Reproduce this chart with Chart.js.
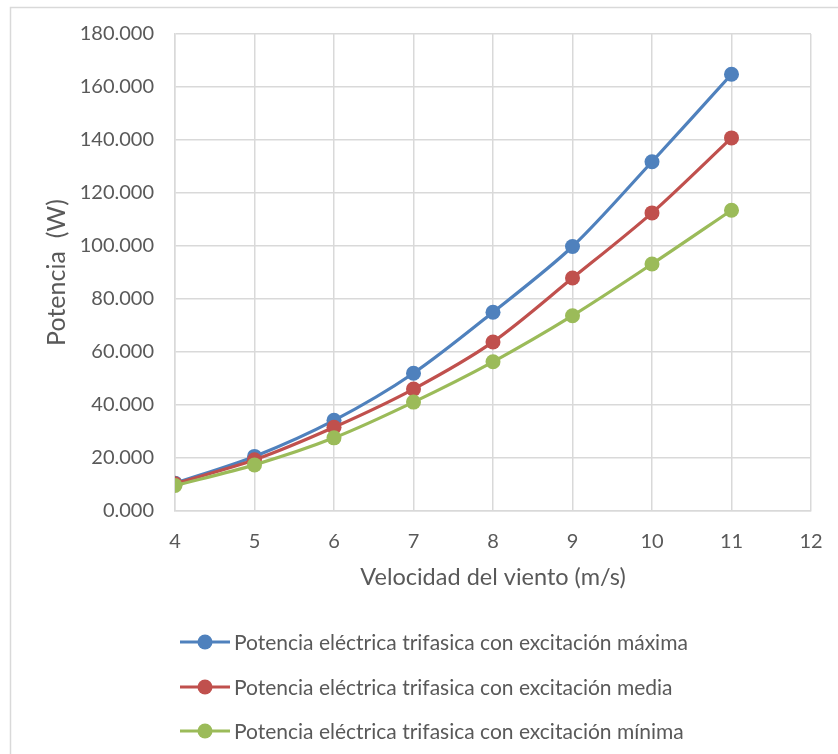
<!DOCTYPE html>
<html>
<head>
<meta charset="utf-8">
<script src="https://cdn.jsdelivr.net/npm/chart.js@4/dist/chart.umd.min.js"></script>
<style>
  html, body { margin: 0; padding: 0; background: #fff; }
  #wrap { width: 838px; height: 754px; position: relative; }
</style>
</head>
<body>
<div id="wrap"><canvas id="potenciaChart"></canvas></div>
<script>
const velocidades = [4, 5, 6, 7, 8, 9, 10, 11];
const potenciaMaxima = [10.5, 20.6, 34.2, 52.0, 75.0, 99.8, 131.8, 164.8];
const potenciaMedia = [10.3, 19.3, 31.6, 46.0, 63.8, 87.9, 112.5, 140.8];
const potenciaMinima = [9.6, 17.4, 27.6, 41.1, 56.3, 73.7, 93.2, 113.5];

const seriesNames = [
    'Potencia eléctrica trifasica con excitación máxima',
    'Potencia eléctrica trifasica con excitación media',
    'Potencia eléctrica trifasica con excitación mínima'
];
const seriesColors = ['#4f81bd', '#c0504d', '#9bbb59'];

const FONT = 'Lato, "Open Sans", sans-serif';
const TEXT = '#595959';
const GRID = '#d9d9d9';

function toPoints(values) {
    return values.map((v, i) => ({ x: velocidades[i], y: v }));
}

function makeDataset(idx, values) {
    return {
        label: seriesNames[idx],
        data: toPoints(values),
        borderColor: seriesColors[idx],
        backgroundColor: seriesColors[idx],
        borderWidth: 3.2,
        pointRadius: 7.5,
        pointHoverRadius: 7.5,
        pointBorderWidth: 0,
        tension: 0.3,
        // green on top, blue underneath
        order: 2 - idx
    };
}

// outer frame of the chart box
const framePlugin = {
    id: 'frame',
    beforeDraw(chart) {
        const ctx = chart.ctx;
        ctx.save();
        ctx.fillStyle = '#fff';
        ctx.fillRect(0, 0, chart.width, chart.height);
        ctx.strokeStyle = GRID;
        ctx.lineWidth = 1.5;
        ctx.strokeRect(10.5, 7.5, chart.width + 20, chart.height + 20);
        ctx.restore();
    }
};

// legend rows: line + marker, then the label
const legendPlugin = {
    id: 'rowLegend',
    afterDraw(chart) {
        const ctx = chart.ctx;
        const rows = [642, 687, 731];
        ctx.save();
        seriesNames.forEach((name, i) => {
            const y = rows[i];
            ctx.strokeStyle = seriesColors[i];
            ctx.lineWidth = 3.2;
            ctx.beginPath();
            ctx.moveTo(180, y);
            ctx.lineTo(230, y);
            ctx.stroke();
            ctx.fillStyle = seriesColors[i];
            ctx.beginPath();
            ctx.arc(205, y, 7.5, 0, Math.PI * 2);
            ctx.fill();
            ctx.fillStyle = TEXT;
            ctx.font = '21px ' + FONT;
            ctx.textBaseline = 'middle';
            ctx.textAlign = 'left';
            ctx.fillText(name, 234, y + 1);
        });
        ctx.restore();
    }
};

new Chart(document.getElementById('potenciaChart'), {
    type: 'line',
    data: {
        datasets: [
            makeDataset(0, potenciaMaxima),
            makeDataset(1, potenciaMedia),
            makeDataset(2, potenciaMinima)
        ]
    },
    options: {
        responsive: true,
        maintainAspectRatio: false,
        animation: false,
        layout: { padding: { left: 0, top: 34, right: 27, bottom: 158 } },
        plugins: {
            legend: { display: false },
            tooltip: { enabled: false }
        },
        scales: {
            x: {
                type: 'linear',
                min: 4,
                max: 12,
                afterFit(scale) { scale.height = 85; },
                ticks: {
                    stepSize: 1,
                    color: TEXT,
                    padding: 3,
                    font: { family: FONT, size: 20 }
                },
                // invisible tick marks push the labels down
                grid: { color: GRID, lineWidth: 1.5, drawTicks: true, tickLength: 16, tickColor: 'rgba(0,0,0,0)' },
                border: { color: GRID, width: 1.5 },
                title: {
                    display: true,
                    text: 'Velocidad del viento (m/s)',
                    color: TEXT,
                    font: { family: FONT, size: 23.5 },
                    padding: { top: 0, bottom: 4 }
                }
            },
            y: {
                min: 0,
                max: 180,
                afterFit(scale) { scale.width = 175; },
                ticks: {
                    stepSize: 20,
                    color: TEXT,
                    padding: 21,
                    font: { family: FONT, size: 20 },
                    callback: v => v.toFixed(3)
                },
                grid: { color: GRID, lineWidth: 1.5, drawTicks: false },
                border: { color: GRID, width: 1.5 },
                title: {
                    display: true,
                    text: 'Potencia  (W)',
                    color: TEXT,
                    font: { family: FONT, size: 25 },
                    padding: { top: 42, bottom: 0 }
                }
            }
        }
    },
    plugins: [framePlugin, legendPlugin]
});
</script>
</body>
</html>
